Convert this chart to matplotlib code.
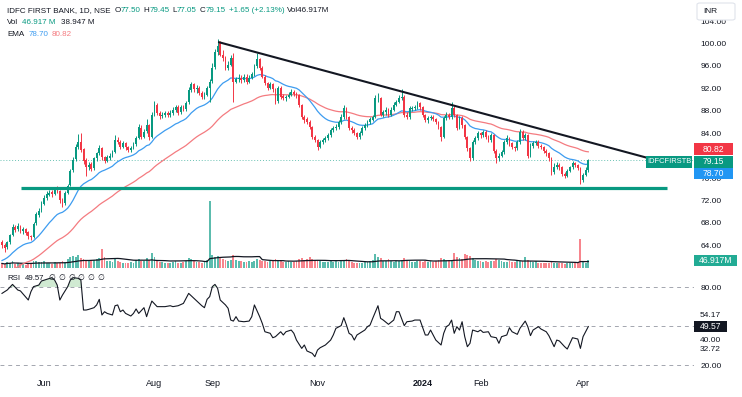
import numpy as np
import pandas as pd
import matplotlib
matplotlib.use("Agg")
import matplotlib.pyplot as plt
from matplotlib.patches import Rectangle, FancyBboxPatch
from matplotlib import transforms

plt.rcParams['font.family'] = ['Liberation Sans', 'DejaVu Sans']

W, H = 742, 397

# NSE sessions shown on the chart (10 May 2023 -> 3 Apr 2024)
holidays = ['2023-06-29', '2023-08-15', '2023-09-19', '2023-10-02', '2023-10-24',
            '2023-11-14', '2023-11-27', '2023-12-25', '2024-01-22', '2024-01-26',
            '2024-03-08', '2024-03-25', '2024-03-29']
extra_sessions = ['2024-01-20']
dates = (pd.bdate_range('2023-05-10', '2024-04-03')
         .drop(pd.to_datetime(holidays))
         .append(pd.to_datetime(extra_sessions))
         .sort_values())

month_keys = ['2023-06-01', '2023-08-01', '2023-09-01', '2023-11-01', '2024-01-01', '2024-02-01', '2024-04-01']
month_labels = ['Jun', 'Aug', 'Sep', 'Nov', '2024', 'Feb', 'Apr']

opens = [64.6, 64.0, 63.7, 64.6, 65.9, 67.3, 66.9, 67.3, 66.5, 66.9,
         66.3, 65.6, 65.5, 67.9, 69.4, 70.3, 71.4, 72.5, 73.0, 73.5,
         73.2, 74.2, 73.7, 72.1, 71.5, 73.4, 74.7, 77.4, 79.4, 81.6,
         82.5, 81.1, 79.2, 77.9, 78.5, 77.8, 79.5, 80.4, 81.3, 79.8,
         79.1, 79.6, 80.0, 80.7, 82.8, 82.4, 81.6, 82.2, 81.6, 81.0,
         81.4, 82.0, 83.1, 85.0, 83.4, 84.4, 85.4, 83.4, 87.4, 89.0,
         87.6, 87.0, 87.2, 87.6, 87.2, 87.6, 88.1, 88.7, 87.7, 88.7,
         88.3, 89.5, 91.7, 92.7, 91.8, 92.1, 91.2, 90.5, 90.9, 92.1,
         93.3, 95.8, 98.4, 100.2, 98.0, 97.4, 95.7, 96.2, 97.5, 93.2,
         93.6, 93.9, 93.4, 94.1, 93.2, 93.9, 94.5, 95.9, 97.2, 95.7,
         94.1, 93.0, 92.1, 92.7, 91.8, 89.7, 92.1, 90.6, 90.2, 90.5,
         90.9, 91.4, 91.1, 90.8, 89.0, 86.9, 86.5, 86.0, 85.1, 83.3,
         82.8, 81.6, 82.4, 82.8, 83.1, 83.7, 84.6, 84.9, 85.1, 86.0,
         86.9, 88.5, 86.9, 84.9, 84.6, 84.0, 83.3, 84.0, 84.9, 85.4,
         86.0, 86.4, 86.9, 90.2, 90.2, 87.3, 87.8, 88.2, 87.3, 88.2,
         89.1, 89.6, 90.3, 90.5, 87.3, 86.9, 88.4, 88.5, 88.7, 89.4,
         88.6, 87.3, 86.4, 86.7, 86.9, 86.5, 86.0, 85.1, 83.4, 86.7,
         87.3, 86.9, 88.5, 87.3, 85.0, 86.7, 85.4, 83.3, 81.3, 79.6,
         82.4, 83.1, 84.0, 83.6, 84.2, 83.3, 82.8, 83.6, 80.9, 79.5,
         80.0, 80.6, 82.4, 83.1, 82.2, 81.5, 81.3, 82.4, 84.2, 83.1,
         83.6, 80.0, 81.8, 82.2, 82.4, 81.8, 81.5, 80.9, 80.4, 79.5,
         77.0, 77.9, 78.3, 77.9, 76.8, 76.4, 77.3, 77.9, 78.6, 78.3,
         77.8, 75.7, 76.6, 77.50]

highs = [64.9, 64.4, 64.8, 66.1, 67.8, 67.6, 67.9, 67.6, 67.3, 67.1,
         66.5, 65.9, 68.1, 69.9, 70.7, 71.9, 73.0, 73.6, 73.9, 73.9,
         74.4, 74.5, 73.9, 72.4, 73.6, 75.0, 77.7, 79.8, 82.0, 83.8,
         84.0, 81.4, 79.5, 78.9, 78.9, 79.8, 80.7, 81.9, 81.6, 80.0,
         80.1, 80.4, 81.0, 83.6, 83.3, 82.7, 82.6, 82.5, 81.8, 81.8,
         82.4, 83.5, 85.6, 85.4, 84.7, 86.5, 85.7, 87.8, 89.7, 89.3,
         87.9, 87.8, 87.9, 87.9, 88.2, 88.6, 89.0, 89.0, 89.1, 89.1,
         89.8, 92.2, 93.2, 93.0, 92.6, 92.4, 91.5, 91.3, 92.5, 93.7,
         96.5, 99.0, 100.8, 100.5, 98.8, 97.7, 96.8, 98.0, 98.3, 94.1,
         94.5, 94.4, 94.6, 94.5, 94.4, 94.9, 96.3, 98.3, 97.5, 95.9,
         94.3, 93.2, 93.1, 92.9, 92.0, 92.4, 92.5, 91.0, 90.9, 91.3,
         91.8, 91.7, 91.3, 91.0, 89.2, 87.2, 86.8, 86.3, 85.3, 83.6,
         83.0, 82.7, 83.2, 83.5, 84.1, 85.0, 85.3, 85.6, 86.4, 87.4,
         89.0, 88.7, 87.1, 85.2, 84.9, 84.2, 84.4, 85.2, 85.8, 86.4,
         86.9, 87.3, 90.9, 91.2, 90.5, 88.2, 88.6, 88.5, 88.6, 89.5,
         90.0, 90.8, 91.9, 90.8, 87.7, 88.9, 88.9, 89.1, 89.8, 89.6,
         88.8, 87.5, 87.1, 87.3, 87.2, 86.7, 86.2, 85.3, 87.0, 87.7,
         87.6, 89.6, 88.8, 87.5, 87.0, 87.0, 85.6, 83.5, 81.6, 82.7,
         83.5, 84.4, 84.3, 84.6, 84.5, 83.6, 84.0, 83.8, 81.2, 80.5,
         81.0, 82.8, 83.6, 83.3, 82.4, 81.8, 82.8, 84.8, 84.6, 84.0,
         83.8, 82.2, 82.6, 82.8, 82.7, 82.1, 81.8, 81.1, 80.6, 79.7,
         78.7, 78.8, 78.6, 78.1, 77.1, 77.7, 78.2, 79.0, 78.9, 78.5,
         78.0, 76.9, 77.9, 79.45]

lows = [63.6, 62.8, 63.4, 64.3, 65.6, 66.3, 66.5, 66.2, 66.1, 65.8,
        65.2, 64.9, 65.3, 67.6, 69.0, 70.0, 71.1, 72.1, 72.8, 72.7,
        72.9, 73.3, 71.6, 70.8, 71.2, 73.1, 74.5, 77.0, 79.1, 81.2,
        80.7, 78.5, 76.4, 77.5, 77.2, 77.5, 79.1, 80.1, 79.3, 78.6,
        78.8, 79.3, 79.7, 80.4, 82.0, 81.2, 81.3, 81.0, 80.6, 80.7,
        81.1, 81.8, 82.9, 82.9, 83.1, 84.1, 82.7, 83.1, 87.0, 87.2,
        86.5, 86.7, 86.9, 86.8, 86.9, 87.3, 87.8, 87.2, 87.4, 87.9,
        88.0, 89.2, 91.3, 91.4, 91.2, 90.8, 90.1, 90.1, 90.6, 89.6,
        93.0, 95.5, 98.0, 97.7, 96.8, 95.3, 95.3, 95.9, 89.6, 92.9,
        93.2, 93.0, 93.1, 92.8, 92.9, 93.6, 94.2, 95.6, 95.3, 93.8,
        92.6, 91.7, 91.8, 91.4, 89.2, 89.4, 90.1, 89.9, 89.8, 90.2,
        90.6, 90.6, 90.3, 88.7, 86.5, 85.9, 85.6, 84.7, 82.9, 82.4,
        81.0, 81.3, 82.1, 82.5, 82.8, 83.4, 84.2, 84.5, 84.8, 85.7,
        86.6, 86.5, 84.5, 84.1, 83.6, 82.9, 83.0, 83.7, 84.6, 85.1,
        85.6, 86.1, 86.7, 89.5, 87.0, 86.9, 87.3, 86.9, 87.0, 87.9,
        88.8, 89.3, 90.0, 86.9, 86.5, 86.6, 88.0, 88.1, 88.4, 88.2,
        86.9, 86.0, 85.9, 86.3, 86.1, 85.6, 84.7, 82.6, 83.2, 86.3,
        86.5, 86.6, 86.9, 84.5, 84.7, 85.0, 82.9, 80.9, 79.0, 79.3,
        82.0, 82.8, 83.2, 83.3, 82.9, 82.4, 82.5, 80.5, 78.6, 79.1,
        79.7, 80.3, 82.0, 81.8, 81.1, 80.9, 81.0, 82.1, 82.7, 82.8,
        79.6, 79.8, 81.4, 81.9, 81.4, 81.1, 80.5, 80.0, 79.1, 76.6,
        76.7, 77.6, 77.4, 76.4, 76.0, 76.1, 77.0, 77.6, 77.9, 77.4,
        74.9, 75.3, 76.4, 77.05]

closes = [64.0, 63.6, 64.5, 65.8, 67.2, 66.8, 67.4, 66.6, 66.9, 66.2,
          65.6, 65.4, 67.8, 69.5, 70.2, 71.4, 72.5, 73.2, 73.4, 73.1,
          74.1, 73.8, 72.0, 71.4, 73.3, 74.6, 77.3, 79.3, 81.5, 82.4,
          81.0, 79.1, 77.9, 78.4, 77.7, 79.5, 80.4, 81.3, 79.7, 79.1,
          79.7, 80.0, 80.6, 82.7, 82.4, 81.6, 82.2, 81.5, 81.0, 81.4,
          82.0, 83.1, 85.1, 83.3, 84.3, 85.4, 83.3, 87.3, 89.1, 87.6,
          87.0, 87.3, 87.6, 87.2, 87.6, 88.2, 88.7, 87.6, 88.7, 88.3,
          89.4, 91.7, 92.7, 91.8, 92.1, 91.2, 90.5, 90.9, 92.1, 93.2,
          95.7, 98.4, 99.5, 98.0, 97.5, 95.7, 96.2, 97.5, 93.2, 93.6,
          93.9, 93.4, 94.1, 93.2, 93.9, 94.5, 95.9, 97.2, 95.7, 94.1,
          93.0, 92.1, 92.7, 91.8, 89.6, 92.1, 90.5, 90.3, 90.5, 90.9,
          91.4, 91.0, 90.8, 89.0, 86.9, 86.4, 86.0, 85.1, 83.3, 82.8,
          81.5, 82.4, 82.8, 83.1, 83.7, 84.6, 84.9, 85.1, 86.0, 86.9,
          88.5, 86.9, 84.9, 84.6, 84.0, 83.3, 84.0, 84.9, 85.4, 86.0,
          86.5, 86.9, 90.3, 90.3, 87.3, 87.8, 88.2, 87.3, 88.2, 89.1,
          89.6, 90.3, 90.5, 87.3, 86.9, 88.5, 88.5, 88.7, 89.4, 88.6,
          87.3, 86.4, 86.7, 86.9, 86.5, 86.0, 85.1, 83.3, 86.7, 87.3,
          86.9, 88.5, 87.3, 84.9, 86.7, 85.4, 83.3, 81.3, 79.5, 82.4,
          83.1, 84.0, 83.6, 84.2, 83.3, 82.8, 83.6, 80.9, 79.5, 80.0,
          80.6, 82.4, 83.1, 82.2, 81.5, 81.3, 82.4, 84.2, 83.1, 83.6,
          80.0, 81.8, 82.2, 82.4, 81.8, 81.5, 80.9, 80.4, 79.5, 77.0,
          77.9, 78.3, 77.9, 76.8, 76.4, 77.3, 77.9, 78.6, 78.3, 77.8,
          75.6, 76.5, 77.5, 79.15]

# volume in millions of shares
volumes = [28, 22, 35, 30, 42, 25, 30, 22, 27, 20, 24, 30, 45, 40, 35, 38,
           42, 30, 28, 25, 36, 30, 33, 40, 38, 55, 70, 75, 65, 80, 60, 55,
           45, 40, 50, 48, 55, 60, 115, 70, 45, 40, 38, 60, 45, 35, 32, 30,
           28, 35, 30, 48, 55, 40, 45, 60, 50, 90, 70, 45, 38, 35, 30, 32,
           30, 35, 40, 30, 32, 38, 45, 60, 55, 40, 36, 38, 30, 42, 50, 410,
           80, 65, 75, 60, 55, 50, 45, 48, 78, 50, 42, 40, 38, 35, 40, 36,
           45, 55, 48, 40, 42, 38, 45, 40, 55, 50, 42, 38, 36, 40, 35, 38,
           45, 55, 60, 50, 58, 65, 55, 50, 45, 40, 38, 36, 35, 40, 38, 42,
           36, 40, 45, 55, 40, 35, 30, 28, 32, 30, 35, 38, 45, 48, 85, 70,
           60, 45, 40, 55, 40, 38, 42, 45, 50, 60, 48, 40, 38, 35, 40, 45,
           38, 42, 36, 40, 35, 45, 50, 60, 55, 45, 50, 48, 90, 70, 60, 55,
           85, 80, 75, 60, 50, 45, 40, 35, 40, 38, 42, 45, 55, 48, 40, 38,
           36, 40, 35, 38, 42, 40, 45, 65, 48, 42, 38, 40,
           30, 28, 32, 30, 30, 35, 32, 30, 28, 30, 27, 32, 30, 28, 33, 38,
           175, 38, 30, 46.917]

# RSI(14) (bar number, value)
rsi_bars = [0, 2, 4, 6, 7, 10, 11, 12, 14, 15, 17, 19, 20, 21, 22, 23, 25, 26, 27, 29,
            30, 31, 32, 33, 35, 36, 37, 38, 39, 40, 42, 43, 44, 45, 46, 47, 49, 50, 51, 52,
            54, 55, 56, 57, 59, 60, 62, 64, 65, 67, 69, 71, 73, 75, 76, 77, 78, 79, 80, 81,
            82, 83, 85, 86, 87, 88, 89, 90, 92, 94, 95, 96, 98, 99, 100, 102, 103, 104, 106, 107,
            108, 110, 111, 112, 114, 115, 116, 118, 119, 120, 121, 123, 125, 126, 127, 129, 130, 131, 132, 133,
            134, 135, 137, 138, 139, 140, 141, 143, 144, 145, 147, 149, 150, 151, 153, 154, 156, 157, 159, 161,
            162, 163, 165, 167, 168, 169, 170, 171, 172, 173, 174, 175, 176, 177, 178, 179, 181, 182, 183, 185,
            186, 188, 189, 190, 192, 193, 194, 196, 197, 199, 200, 201, 202, 204, 205, 207, 208, 210, 211, 212,
            214, 215, 217, 218, 219, 220, 221, 223]
rsi_vals = [75.1, 77.7, 82.0, 77.7, 77.0, 70.0, 76.4, 80.3, 81.5, 84.6, 85.9, 87.2, 85.4, 81.5, 70.0, 73.8, 80.3, 85.4, 87.2, 86.7,
            85.4, 62.3, 62.3, 62.8, 64.1, 66.2, 70.5, 58.5, 61.0, 59.7, 58.5, 65.6, 66.2, 61.0, 62.3, 59.7, 57.7, 59.7, 63.1, 59.7,
            64.1, 57.2, 63.6, 69.2, 64.9, 64.9, 64.9, 65.6, 64.9, 65.6, 67.4, 75.1, 71.3, 67.4, 65.6, 64.1, 70.5, 72.6, 80.3, 82.0,
            79.0, 70.0, 66.2, 63.6, 54.6, 53.8, 57.2, 53.8, 53.3, 53.8, 57.2, 66.2, 57.2, 52.0, 45.6, 44.4, 41.0, 41.8, 45.6, 43.1,
            45.6, 46.9, 44.4, 39.2, 32.8, 35.4, 30.8, 29.0, 26.4, 31.5, 33.3, 35.4, 39.2, 43.1, 48.2, 50.3, 56.4, 50.8, 44.4, 43.1,
            39.2, 43.1, 45.6, 46.9, 49.5, 50.8, 55.9, 65.6, 55.9, 54.6, 51.3, 54.6, 61.0, 61.0, 50.3, 53.3, 53.8, 54.6, 54.6, 43.1,
            43.1, 46.9, 39.2, 35.4, 44.4, 49.5, 50.8, 54.6, 44.4, 49.5, 46.9, 53.3, 41.8, 34.1, 36.7, 46.9, 45.6, 46.9, 45.1, 45.6,
            41.8, 41.0, 36.7, 41.8, 43.1, 48.7, 45.6, 43.6, 48.2, 53.8, 49.5, 42.6, 46.9, 49.5, 47.7, 45.6, 42.6, 34.1, 39.2, 38.5,
            34.1, 32.3, 41.0, 40.5, 40.0, 32.8, 41.8, 49.57]

ema_fast_seed, ema_slow_seed = 61.0, 58.4
support_level = 74.27
trend_bars = [82.2, 245.7]
trend_prices = [100.27, 79.57]

UP, DOWN = '#089981', '#f23645'
DARK = '#131722'
EMA_BLUE, EMA_RED = '#3d9cf0', '#f47b80'

x = np.arange(len(closes))
o, h, l, c = map(np.array, (opens, highs, lows, closes))
vol = np.array(volumes)
up = c >= o
colors = np.where(up, UP, DOWN)

ema_fast = pd.Series([ema_fast_seed] + closes).ewm(span=20, adjust=False).mean().values[1:]
ema_slow = pd.Series([ema_slow_seed] + closes).ewm(span=50, adjust=False).mean().values[1:]
vol_ma = pd.Series(vol).rolling(20, min_periods=1).mean().values

month_pos = [int(np.searchsorted(dates.values, np.datetime64(m))) for m in month_keys]

fig = plt.figure(figsize=(W / 100, H / 100), dpi=100)
fig.patch.set_facecolor('white')
renderer = fig.canvas.get_renderer()


def rect(top, bottom, left=0, right=694):
    return [left / W, 1 - bottom / H, (right - left) / W, (bottom - top) / H]


xlim = (-0.76, 263.2)
ax_vol = fig.add_axes(rect(0, 268))
ax = fig.add_axes(rect(0, 268))
ax_rsi = fig.add_axes(rect(269, 374))
ax.patch.set_alpha(0)

for a in (ax_vol, ax, ax_rsi):
    a.set_xlim(*xlim)
    for s in a.spines.values():
        s.set_visible(False)

# volume
ax_vol.bar(x, vol, width=0.7, color=np.where(up, '#5cbcae', '#f7858d'), linewidth=0)
ax_vol.plot(x, vol_ma, color=DARK, lw=0.9)
ax_vol.set_ylim(0, 1640)
ax_vol.set_xticks([])
ax_vol.set_yticks([])

# price
ax.plot(x, ema_slow, color=EMA_RED, lw=0.9, zorder=2)
ax.plot(x, ema_fast, color=EMA_BLUE, lw=0.9, zorder=2)
ax.vlines(x, l, h, colors=colors, lw=0.7, zorder=3)
ax.bar(x, np.maximum(np.abs(c - o), 0.08), bottom=np.minimum(o, c), width=0.68,
       color=colors, linewidth=0, zorder=4)
ax.axhline(closes[-1], color=UP, ls=(0, (1, 2)), lw=0.7, alpha=0.6, zorder=1)
ax.hlines(support_level, 7.1, 252.8, color=UP, lw=2.3, zorder=5)
ax.plot(trend_bars, trend_prices, color=DARK, lw=1.5, zorder=5, solid_capstyle='butt')
ax.set_ylim(59.95, 107.76)
ax.yaxis.tick_right()
price_ticks = [64, 68, 72, 76, 84, 88, 92, 96, 100, 104]
ax.set_yticks(price_ticks)
ax.set_yticklabels([f'{v:.2f}' for v in price_ticks])
ax.tick_params(axis='y', length=0, pad=4.5, labelsize=6, labelcolor=DARK)
ax.tick_params(axis='x', bottom=False, labelbottom=False)

# RSI
rv = np.array(rsi_vals)
for lvl in (80, 50, 20):
    ax_rsi.axhline(lvl, color='#a3a6af', ls=(0, (4, 4)), lw=0.7)
ax_rsi.fill_between(rsi_bars, rv, 80, where=rv > 80, interpolate=True, color='#66bb6a', alpha=0.3, lw=0)
ax_rsi.plot(rsi_bars, rv, color=DARK, lw=0.8)
ax_rsi.set_ylim(13.1, 93.85)
ax_rsi.yaxis.tick_right()
ax_rsi.set_yticks([20, 40, 80])
ax_rsi.set_yticklabels(['20.00', '40.00', '80.00'])
ax_rsi.tick_params(axis='y', length=0, pad=4.5, labelsize=6, labelcolor=DARK)
ax_rsi.set_xticks(month_pos)
ax_rsi.set_xticklabels(month_labels)
ax_rsi.tick_params(axis='x', length=0, pad=3.5, labelsize=6.5, labelcolor=DARK)
ax_rsi.get_xticklabels()[4].set_fontweight('bold')


def tag(a, yval, text, face, x0, x1, hpx, dy=0.0, size=6.2):
    lo, hi = a.get_ylim()
    ppu = a.bbox.height / (hi - lo)
    tr = transforms.blended_transform_factory(fig.transFigure, a.transData)
    yc = yval + dy / ppu
    a.add_patch(Rectangle((x0 / W, yc - hpx / 2 / ppu), (x1 - x0) / W, hpx / ppu, transform=tr,
                          facecolor=face, edgecolor='none', clip_on=False, zorder=10))
    a.text((x0 + x1) / 2 / W, yc, text, transform=tr, ha='center', va='center',
           color='white', fontsize=size, clip_on=False, zorder=11)


tag(ax, 80.82, '80.82', DOWN, 694, 733, 11.5, dy=1.8)
tag(ax, 79.15, '79.15', UP, 694, 733, 11.5, dy=-1.4)
tag(ax, 78.70, '78.70', '#2196f3', 694, 733, 11.0, dy=-10.2)
tag(ax, 79.15, 'IDFCFIRSTB', UP, 646, 692, 11.5, dy=-1.4, size=5.4)
tag(ax_vol, volumes[-1], '46.917M', '#22ab94', 694, 737, 11.5)
tag(ax_rsi, rsi_vals[-1], '49.57', DARK, 694, 727, 11.0)

# other RSI-pane scale values, pushed clear of the tag as on the reference
fig.text(700 / W, 1 - 315.7 / H, '54.17', fontsize=6, color=DARK, va='center')
fig.text(700 / W, 1 - 349.3 / H, '32.72', fontsize=6, color=DARK, va='center')

# currency box
fig.add_artist(FancyBboxPatch((697 / W, 1 - 20 / H), 38 / W, 17 / H, boxstyle='round,pad=0,rounding_size=0.004',
                              transform=fig.transFigure, facecolor='white', edgecolor='#e0e3eb', lw=0.8))
fig.text(703 / W, 1 - 11.5 / H, 'INR', fontsize=6, color=DARK, va='center')


def line_of_text(xp, yp, pieces, size=5.8):
    # pieces: (text, colour, gap in px after it), laid out left to right
    for s, col, gap in pieces:
        t = fig.text(xp / W, 1 - yp / H, s, fontsize=size, color=col, va='center')
        xp += t.get_window_extent(renderer).width + gap


line_of_text(7, 11, [('IDFC FIRST BANK, 1D, NSE', DARK, 4), ('O', DARK, 0), ('77.50', UP, 3),
                     ('H', DARK, 0), ('79.45', UP, 3), ('L', DARK, 0), ('77.05', UP, 3),
                     ('C', DARK, 0), ('79.15', UP, 3), ('+1.65 (+2.13%)', UP, 3), ('Vol46.917M', DARK, 0)])
line_of_text(7, 23, [('Vol', DARK, 4), ('46.917 M', UP, 5), ('38.947 M', DARK, 0)])
line_of_text(7, 34, [('EMA', DARK, 4), ('78.70', EMA_BLUE, 4), ('80.82', EMA_RED, 0)])
line_of_text(7, 278, [('RSI', DARK, 5), ('49.57', DARK, 4)] + [('\u2205', DARK, 3)] * 6, size=5.6)

fig.savefig('out.png', dpi=100)
